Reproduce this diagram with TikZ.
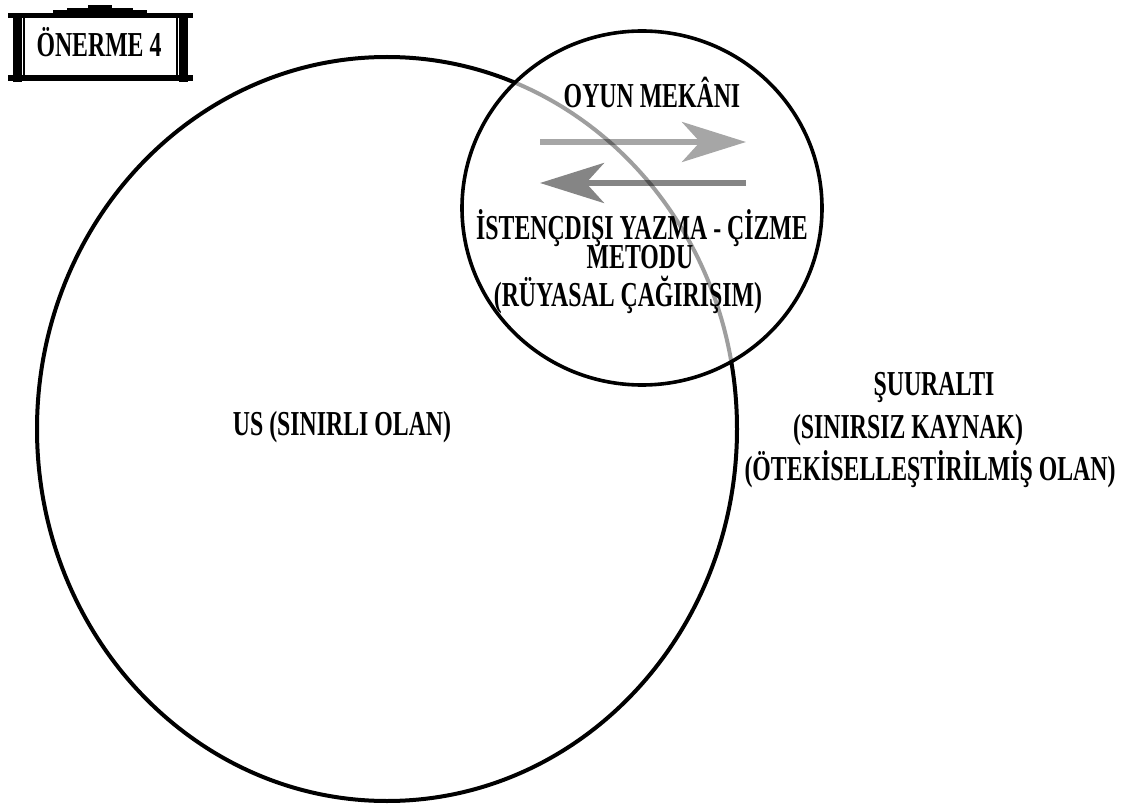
\documentclass[tikz,border=0pt]{standalone}
\usepackage{fontspec}
\setmainfont{Liberation Serif}[FakeStretch=0.68]
\usepackage{tikz}
\usetikzlibrary{arrows.meta}
\tikzset{
	lbl/.style={font=\fontsize{35}{38}\selectfont\bfseries, inner sep=0pt, anchor=base},
	ring/.style={draw=black, line width=4pt},
	flow/.style={line width=6pt, -{Stealth[length=64pt,width=40pt,inset=18pt]}}
}
\tikzstyle{bar} = [fill=black, draw=none]

\begin{document}
\begin{tikzpicture}[x=1pt, y=-1pt]
  \useasboundingbox (0,0) rectangle (1128,805);

  % Frame
  \fill[bar] (8,13) rectangle (193,18);
  \fill[bar] (8,75) rectangle (193,81);
  \fill[bar] (13,13) rectangle (22,82);
  \fill[bar] (179,13) rectangle (188,82);
  \fill[bar] (53,10) rectangle (147,13);
  \fill[bar] (67,8) rectangle (133,10);
  \fill[bar] (88,5) rectangle (112,8);
  \draw[line width=1.5pt] (24,18) -- (24,75);
  \draw[line width=1.5pt] (177,18) -- (177,75);

  % Arrows
  \coordinate (fwdA) at (540,142);
  \coordinate (fwdB) at (746,142);
  \coordinate (backA) at (746,183);
  \coordinate (backB) at (540,183);
  \draw[flow, draw=black!35, fill=black!35] (fwdA) -- (fwdB);
  \draw[flow, draw=black!48, fill=black!48] (backA) -- (backB);

  % Circles
  \begin{scope}[even odd rule]
    \clip (0,0) rectangle (1128,805) (642,208) ellipse [x radius=180, y radius=177];
    \draw[ring] (387,429) ellipse [x radius=350, y radius=372];
  \end{scope}
  \begin{scope}
    \clip (642,208) ellipse [x radius=180, y radius=177];
    \draw[ring, draw opacity=0.38] (387,429) ellipse [x radius=350, y radius=372];
  \end{scope}
  \draw[ring, line width=3.6pt] (642,208) ellipse [x radius=180, y radius=177];

  % Nodes
  \node[lbl] (title)    at (99,57)   {ÖNERME 4};
  \node[lbl] (oyun)     at (652,108) {OYUN MEKÂNI};
  \node[lbl] (metod)    at (642,240) {İSTENÇDIŞI YAZMA - ÇİZME};
  \node[lbl] (metodu)   at (640,269) {METODU};
  \node[lbl] (ruya)     at (628,306) {(RÜYASAL ÇAĞIRIŞIM)};
  \node[lbl] (us)       at (342,435) {US (SINIRLI OLAN)};
  \node[lbl] (suur)     at (934,395) {ŞUURALTI};
  \node[lbl] (sinirsiz) at (908,438) {(SINIRSIZ KAYNAK)};
  \node[lbl] (oteki)    at (930,480) {(ÖTEKİSELLEŞTİRİLMİŞ OLAN)};
\end{tikzpicture}
\end{document}
